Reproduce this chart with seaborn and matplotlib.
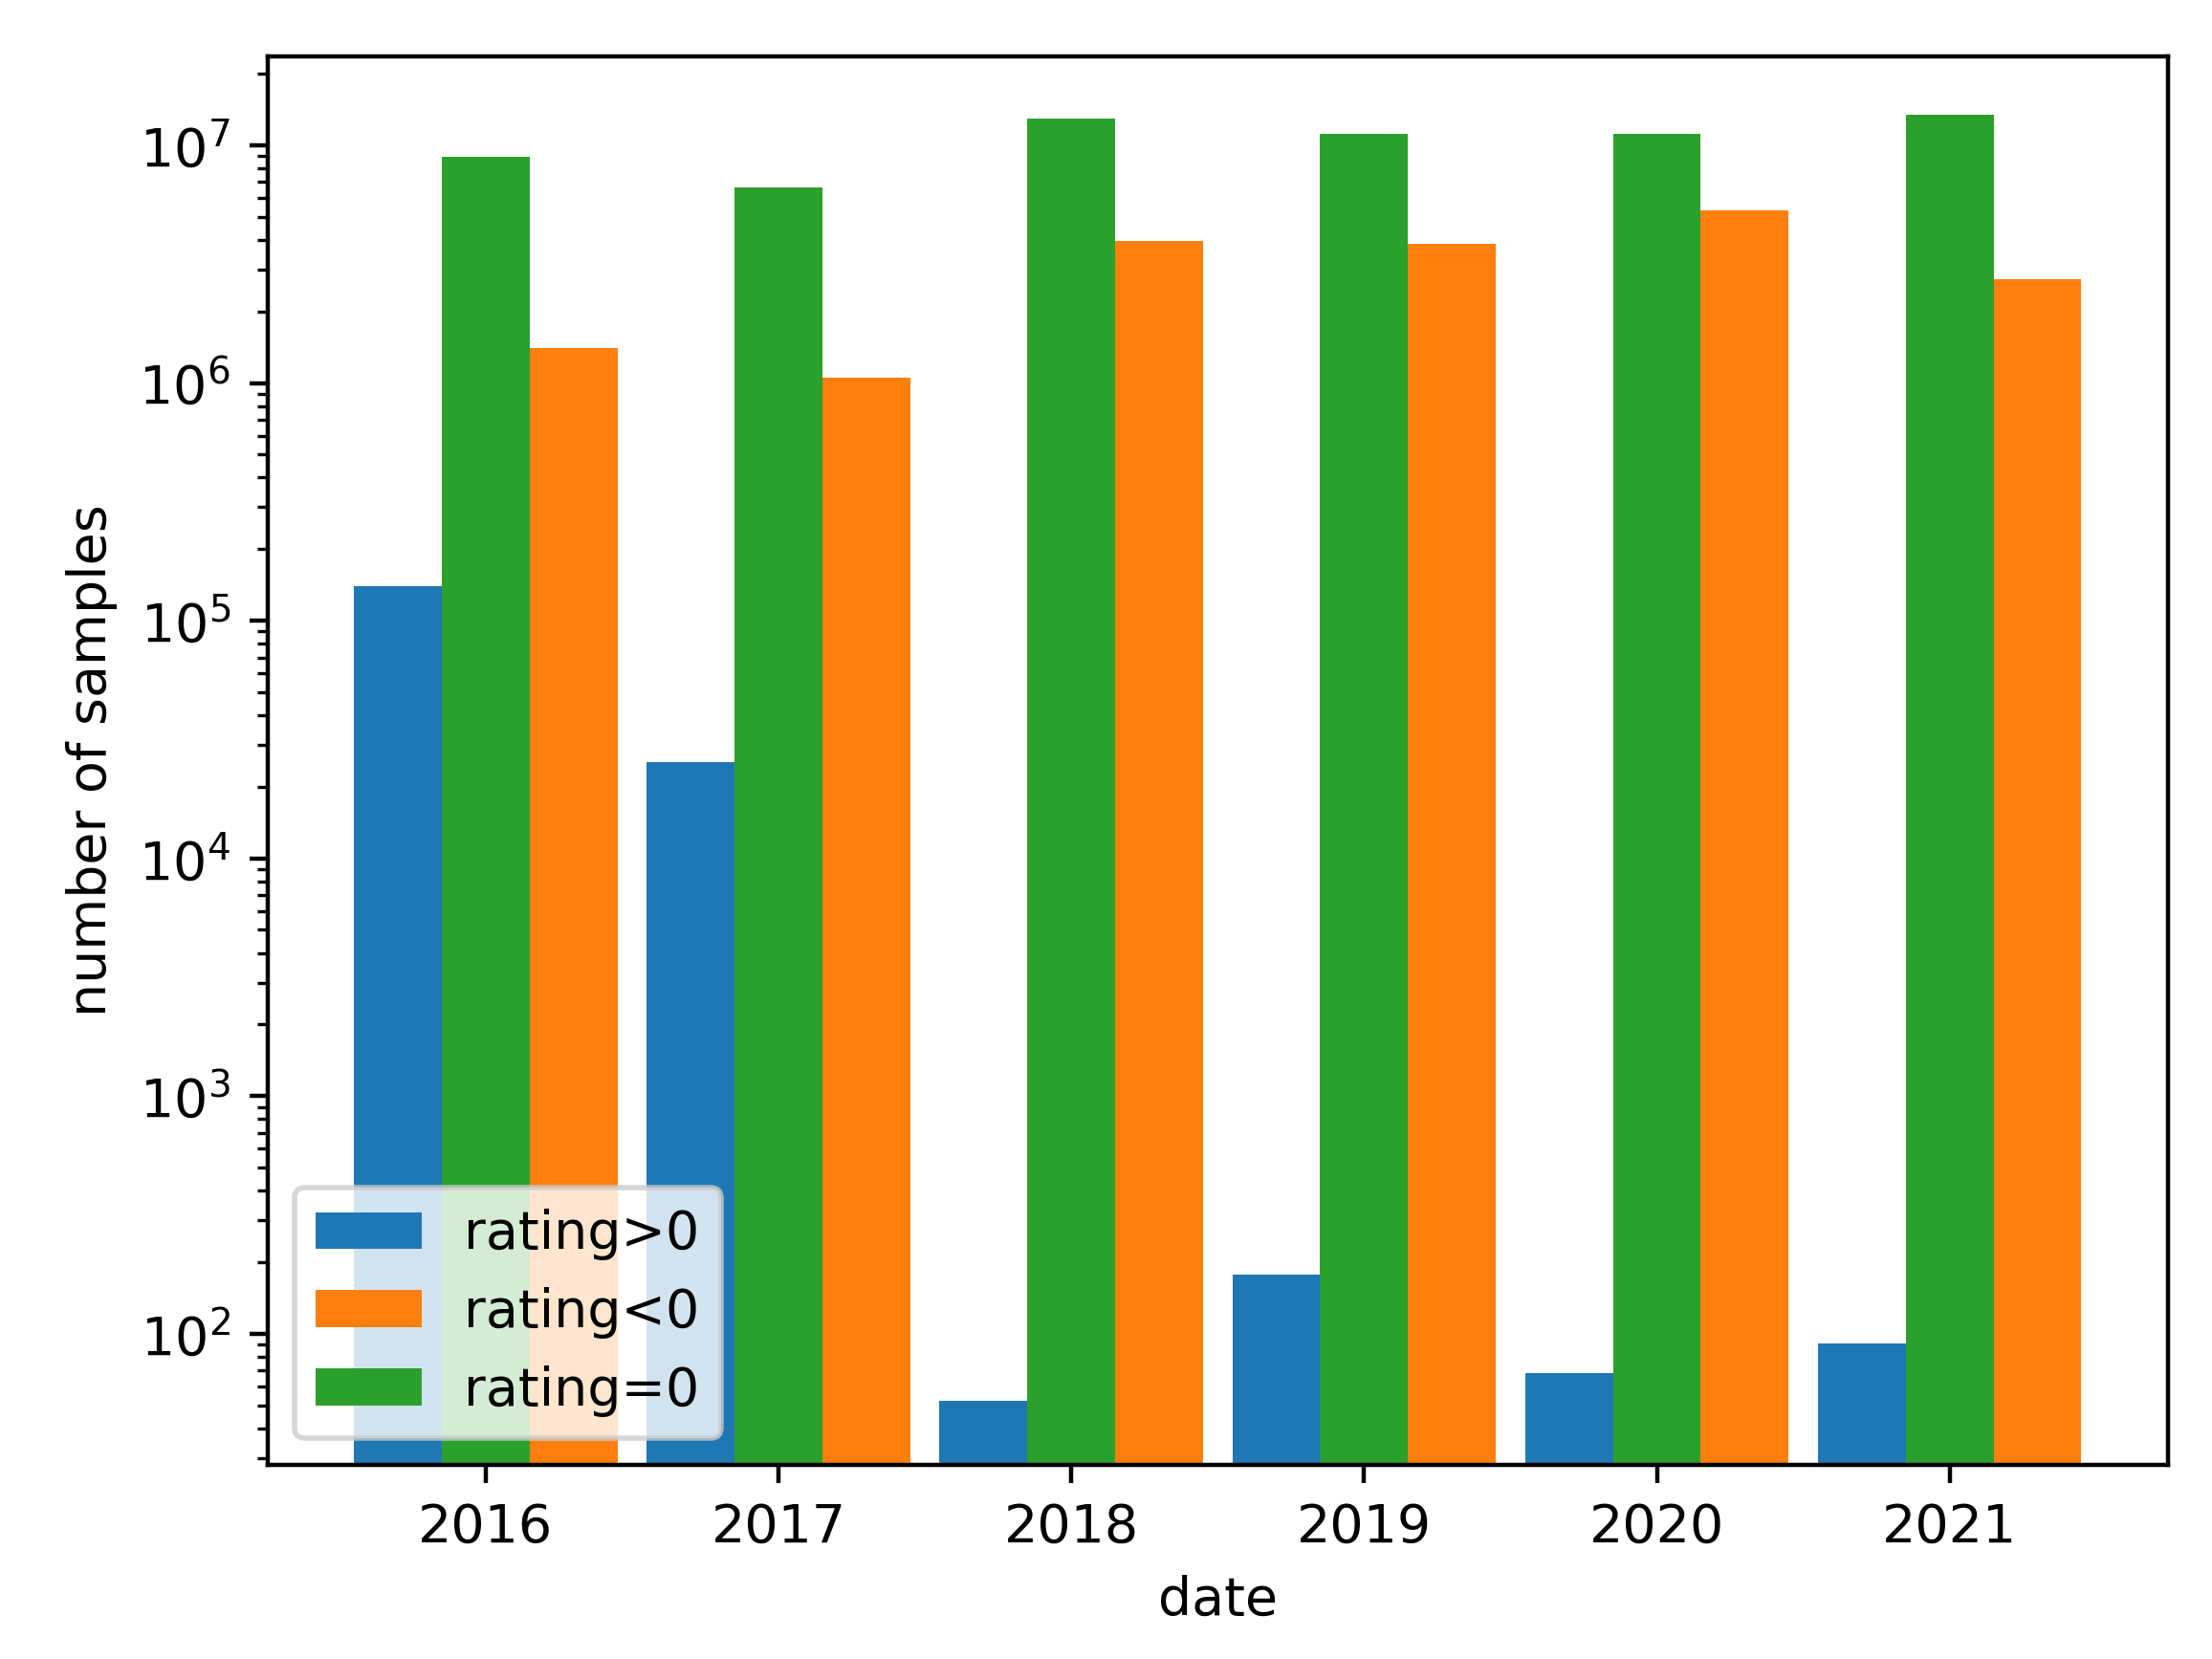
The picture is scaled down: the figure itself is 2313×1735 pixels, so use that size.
import numpy as np
import pandas as pd
import matplotlib
matplotlib.use("Agg")
import matplotlib.pyplot as plt
from matplotlib.patches import Patch
import seaborn as sns

years = ["2016", "2017", "2018", "2019", "2020", "2021"]
rating_pos = [1.40e5, 2.54e4, 52, 178, 68, 91]
rating_neg = [1.40e6, 1.05e6, 3.95e6, 3.84e6, 5.33e6, 2.73e6]
rating_zero = [8.96e6, 6.63e6, 1.30e7, 1.12e7, 1.12e7, 1.35e7]

labels = ["rating>0", "rating<0", "rating=0"]
colors = {"rating>0": "#1f77b4", "rating<0": "#ff7f0e", "rating=0": "#2ca02c"}
bar_order = ["rating>0", "rating=0", "rating<0"]

df = pd.DataFrame({
    "date": years * 3,
    "count": rating_pos + rating_neg + rating_zero,
    "rating": [l for l in labels for _ in years],
})

fig = plt.figure(figsize=(2313 / 400, 1735 / 400), dpi=400)
ax = fig.add_subplot(111)
fig.subplots_adjust(left=0.121, right=0.980, bottom=0.117, top=0.966)

sns.barplot(data=df, x="date", y="count", hue="rating", order=years,
            hue_order=bar_order, palette=colors, width=0.9, saturation=1,
            linewidth=0, errorbar=None, legend=False, ax=ax)

ax.set_yscale("log")
ax.set_ylim(10 ** 1.448, 10 ** 7.374)
ax.set_xlim(-0.745, len(years) - 1 + 0.745)

ax.set_xlabel("date")
ax.set_ylabel("number of samples")

handles = [Patch(facecolor=colors[l], label=l) for l in labels]
ax.legend(handles=handles, loc="lower left")

plt.savefig("out.png", dpi=400)
